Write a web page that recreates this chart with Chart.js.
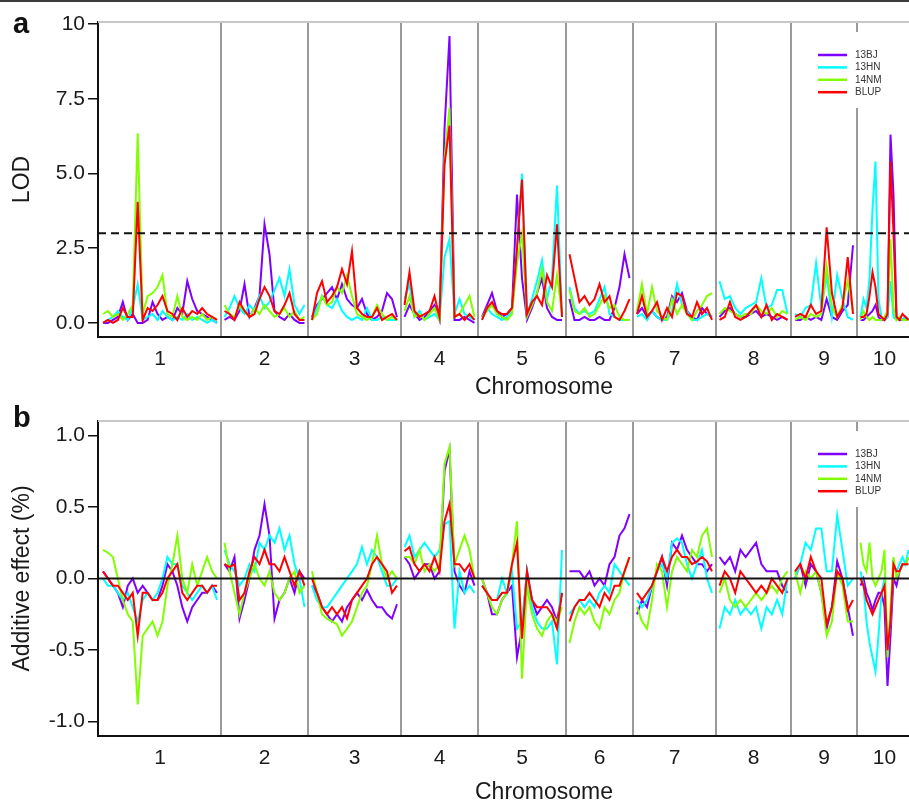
<!DOCTYPE html>
<html>
<head>
<meta charset="utf-8">
<title>QTL scan – LOD and additive effect</title>
<script src="https://cdn.jsdelivr.net/npm/chart.js@4.4.1/dist/chart.umd.min.js"></script>
<style>
  html, body { margin: 0; padding: 0; background: #fff; overflow: hidden; }
  #page { position: relative; width: 909px; height: 804px; overflow: hidden; }
  #rule { position: absolute; left: 0; top: 0; width: 909px; height: 2px; background: #3c3c3c; }
  canvas { position: absolute; left: 0; }
  #lodChart { top: 0; }
  #effectChart { top: 402px; }
</style>
</head>
<body>
<div id="page">
  <!-- the plotting region runs on past the right edge of the page -->
  <canvas id="lodChart" width="990" height="402"></canvas>
  <canvas id="effectChart" width="990" height="402"></canvas>
  <div id="rule"></div>
</div>
<script>
// ---- map layout (cM) ----
const chromosomes = ['1', '2', '3', '4', '5', '6', '7', '8', '9', '10'];
const chrLengths = [228, 160, 170, 140, 160, 120, 150, 136, 116, 96];
const chrGap = 15;
const axisStart = 10;
const axisEnd = 1784;

const seriesNames = ['13BJ', '13HN', '14NM', 'BLUP'];
const seriesColors = ['#8000ff', '#00ffff', '#80ff00', '#ff0000'];

const lodTicks = [0, 2.5, 5, 7.5, 10];
const effectTicks = [-1, -0.5, 0, 0.5, 1];
const lodThreshold = 3;

// ---- LOD profiles, one array per chromosome ----
const lod13BJ = [
  [0,0,0.1,0.2,0.7,0.1,0.3,0,0,0.1,0.7,0.3,0.1,0.2,0.1,0.5,0.3,1.4,0.8,0.4,0.3,0.2,0.1,0],
  [0.1,0.2,0.1,0.4,1.3,0.2,0.5,0.9,3.3,2.3,0.4,0.2,0.1,0.3,0.1,0,0],
  [0.2,0.6,0.8,1.0,1.2,0.8,1.3,0.8,0.6,0.5,0.8,0.3,0.1,0.2,0.4,1.0,0.8,0.2],
  [0.2,0.6,0.3,0.1,0.2,0.4,0.6,0.1,6.5,9.6,0.1,0.1,0.2,0.1,0],
  [0.2,0.6,1.0,0.4,0.2,0.3,0.5,4.3,1.5,0.1,0.5,1.0,1.5,0.5,0.2,0.1,0.1],
  [0.8,0.1,0.1,0.2,0.1,0.1,0.2,0.1,0.1,0.5,1.2,2.3,1.5],
  [0.3,0.5,0.2,0.4,0.2,0.1,0.2,0.9,0.7,1.0,0.4,0.2,0.1,0.5,0.3,0.2],
  [0.2,0.4,0.5,0.3,0.2,0.2,0.3,0.4,0.2,0.3,0.2,0.1,0.2,0.1],
  [0.1,0.1,0.2,0.1,0.2,0.1,0.8,0.2,0.1,0.4,0.6,2.6],
  [0.1,0.1,0.2,0.3,0.4,0.6,0.2,0.1,0.1,0.2,6.3,4.3,0.2,0.1,0.1,0.2,0.1]
];
const lod13HN = [
  [0,0.1,0.2,0.4,0.2,0.1,0.5,1.3,0.1,0.2,0.3,0.1,0.4,0.2,0.1,0.2,0.1,0.3,0.1,0.2,0.1,0,0.1,0],
  [0.2,0.5,0.9,0.5,0.3,0.6,0.4,0.9,0.5,0.7,1.1,1.5,0.9,1.8,0.6,0.3,0.6],
  [0.1,0.5,0.9,0.6,0.5,0.8,0.4,0.2,0.1,0.2,0.1,0.5,0.1,0.1,0.2,0.1,0.1,0.1],
  [0.8,1.3,0.2,0.4,0.1,0.2,0.3,0.1,2.2,2.8,0.3,0.8,0.3,0.2,0.1],
  [0.1,0.5,0.3,0.2,0.1,0.2,0.4,2.5,5.0,0.3,0.8,1.4,2.1,0.8,1.5,4.6,0.2],
  [1.2,0.5,0.3,0.4,0.3,0.4,0.8,1.2,0.3,0.2,0.1,0.1,0.1],
  [0.2,0.3,0.1,0.4,0.2,0.1,0.1,0.4,1.3,0.6,0.4,0.1,0.1,0.2,0.3,0.2],
  [1.4,0.8,0.9,0.5,0.3,0.5,0.6,0.7,1.5,0.5,0.6,1.1,1.1,0.3],
  [0.3,0.2,0.5,0.6,2.0,0.5,1.6,0.2,1.6,0.8,0.2,0.1],
  [0.2,0.8,0.5,1.5,3.8,5.4,0.8,0.2,0.1,0.2,1.4,0.2,0.1,0.2,0.1,0.2,0.1]
];
const lod14NM = [
  [0.3,0.4,0.2,0.3,0.1,0.3,0.6,6.35,0.3,0.9,1.0,1.2,1.6,0.3,0.2,0.9,0.2,0.1,0.2,0.1,0.3,0.1,0.2,0.1],
  [0.6,0.3,0.2,0.6,0.4,0.2,0.5,0.3,0.6,0.4,0.2,0.3,0.5,0.2,0.4,0.1,0.2],
  [0.1,0.3,0.9,0.6,0.7,1.2,1.0,1.6,0.9,0.3,0.2,0.1,0.2,0.6,0.3,0.1,0.2,0.1],
  [0.4,0.9,0.2,0.3,0.1,0.3,0.5,0.1,5.5,7.2,0.2,0.3,0.6,0.9,0.2],
  [0.2,0.4,0.6,0.3,0.2,0.1,0.3,2.0,3.0,0.2,0.6,1.0,1.8,0.7,0.4,1.6,0.3],
  [1.1,0.4,0.3,0.5,0.2,0.3,0.6,0.9,0.5,0.6,0.2,0.1,0.1],
  [0.4,1.3,0.3,1.2,0.4,0.2,0.1,0.8,0.3,0.6,0.3,0.1,0.4,0.6,0.9,1.0],
  [0.3,0.5,0.4,0.3,0.2,0.3,0.3,0.6,0.4,0.3,0.5,0.2,0.4,0.3],
  [0.1,0.2,0.1,0.3,0.2,0.3,1.9,0.5,0.2,0.6,1.4,0.4],
  [0.1,0.4,0.2,0.1,0.2,0.1,0.1,0.1,0.2,0.4,2.8,0.5,0.1,0.2,0.1,0.1,0.1]
];
const lodBLUP = [
  [0,0.1,0,0.1,0.5,0.2,0.2,4.05,0.1,0.5,0.4,0.6,0.9,0.4,0.3,0.1,0.5,0.2,0.4,0.3,0.5,0.3,0.2,0.1],
  [0.4,0.3,0.1,0.7,0.4,0.2,0.3,0.8,1.2,0.9,0.4,0.3,0.6,1.0,0.3,0.1,0.1],
  [0.1,1.0,1.4,0.7,0.9,1.2,1.8,1.3,2.4,0.5,0.3,0.2,0.2,0.5,0.1,0.2,0.3,0.1],
  [0.6,1.7,0.4,0.2,0.3,0.4,0.9,0.2,5.3,6.6,0.2,0.3,0.1,0.3,0.1],
  [0.1,0.5,0.7,0.4,0.3,0.3,0.5,2.5,4.8,0.3,0.7,0.9,0.6,1.6,1.2,3.3,0.2],
  [2.3,1.5,0.7,0.9,0.6,0.8,1.3,0.7,0.9,0.2,0.1,0.4,0.8],
  [0.3,0.9,0.2,0.4,0.7,0.1,0.5,0.2,1.0,0.9,0.3,0.2,0.7,0.3,0.5,0.1],
  [0.1,0.2,0.7,0.2,0.1,0.2,0.4,0.6,0.2,0.6,0.1,0.3,0.2,0.1],
  [0.2,0.3,0.2,0.6,0.3,0.4,3.2,1.0,0.2,0.5,2.2,0.3],
  [0.2,0.2,0.3,0.9,1.7,1.2,0.3,0.2,0.1,0.3,5.4,3.0,0.2,0.1,0.3,0.2,0.1]
];

// ---- additive effect profiles (%) ----
const eff13BJ = [
  [0.05,0,-0.05,-0.1,-0.2,-0.05,0,-0.1,-0.05,-0.1,-0.15,-0.15,-0.05,0.1,0.05,-0.05,-0.2,-0.3,-0.2,-0.15,-0.1,-0.1,-0.05,-0.1],
  [0.1,0.05,0.15,-0.28,-0.15,0,0.2,0.3,0.52,0.3,-0.28,-0.15,-0.1,0,-0.1,0.05,0],
  [-0.05,-0.1,-0.2,-0.25,-0.3,-0.25,-0.3,-0.2,-0.15,-0.1,-0.15,-0.08,-0.15,-0.2,-0.2,-0.25,-0.28,-0.18],
  [0.15,0.1,0,0.05,0.1,0.1,0,0.05,0.75,0.9,0.05,-0.05,-0.1,0.05,-0.05],
  [0,-0.1,-0.25,-0.25,-0.15,-0.1,-0.05,-0.55,-0.35,0.05,-0.15,-0.25,-0.2,-0.15,-0.2,-0.3,-0.1],
  [0.05,0.05,0.05,0,0.05,-0.05,0,-0.05,0.1,0.15,0.3,0.35,0.45],
  [-0.25,-0.15,-0.2,-0.05,0.05,0.15,-0.05,0.25,0.2,0.3,0.2,0.15,0.1,0.1,0.05,0.1],
  [0.15,0.1,0.15,0.05,0.2,0.15,0.2,0.25,0.1,0.05,0.05,0.05,-0.05,-0.1],
  [0,0.1,-0.05,0.1,0.05,-0.1,-0.35,-0.2,0.12,0,-0.2,-0.4],
  [-0.05,0,-0.1,-0.15,-0.22,-0.15,-0.1,-0.1,-0.2,-0.75,-0.4,0,-0.05,0.05,0.1,0.1,0.15]
];
const eff13HN = [
  [0,-0.05,-0.05,-0.1,-0.15,-0.1,-0.2,-0.3,-0.15,-0.1,-0.15,-0.1,0,0.15,0.1,0.1,-0.05,-0.1,-0.15,-0.1,-0.05,-0.1,-0.05,-0.15],
  [0.2,0.1,0.05,-0.05,0,0.1,0.05,0.25,0.2,0.3,0.25,0.35,0.2,0.3,0.1,0,-0.2],
  [-0.05,-0.15,-0.2,-0.2,-0.15,-0.1,-0.05,0,0.05,0.1,0.22,0.1,0.2,0.15,0.05,-0.05,-0.05,0],
  [0.22,0.3,0.15,0.2,0.25,0.2,0.15,0.2,0.38,0.4,-0.35,0.05,-0.1,-0.05,-0.1],
  [-0.05,-0.1,-0.15,-0.15,0,-0.1,0.05,-0.35,-0.3,0.05,-0.2,-0.3,-0.35,-0.35,-0.3,-0.6,0.2],
  [-0.25,-0.2,-0.15,-0.2,-0.15,-0.2,-0.1,-0.05,-0.1,0.1,0.05,0,-0.05],
  [-0.15,-0.2,-0.15,-0.05,0.05,0.1,0,0.25,0.28,0.25,0.1,0,0.1,0.2,0,-0.1],
  [-0.35,-0.2,-0.25,-0.15,-0.25,-0.2,-0.25,-0.2,-0.35,-0.2,-0.25,-0.15,-0.25,0],
  [0,0.1,0.25,0.2,0.35,0.35,0.05,0.05,0.44,0.2,-0.05,0],
  [0.05,-0.05,-0.3,-0.45,-0.55,-0.65,-0.4,-0.1,0,-0.5,-0.3,0.1,0.05,0.1,0.15,0.1,0.2]
];
const eff14NM = [
  [0.2,0.18,0.15,0,-0.15,-0.25,-0.3,-0.88,-0.4,-0.35,-0.3,-0.4,-0.3,-0.05,0.1,0.3,0,-0.1,0.1,-0.05,0.05,0.15,0.05,0],
  [0.25,0.05,-0.1,-0.25,-0.1,0,0.1,0,-0.05,0.05,-0.1,-0.15,-0.1,0,0.05,-0.1,-0.05],
  [0.05,-0.1,-0.25,-0.28,-0.3,-0.32,-0.4,-0.35,-0.3,-0.2,-0.1,-0.05,0.1,0.3,0.1,0,0.05,0],
  [0.15,0.15,0.1,0.2,0.05,0.1,0.05,0.1,0.8,0.92,0.1,0.2,0.3,0.2,0],
  [0,-0.1,-0.2,-0.25,-0.15,-0.1,0.1,0.4,-0.7,-0.05,-0.25,-0.35,-0.4,-0.3,-0.25,-0.3,-0.2],
  [-0.45,-0.3,-0.2,-0.25,-0.2,-0.3,-0.35,-0.2,-0.25,-0.15,-0.1,0.05,0.15],
  [-0.2,-0.3,-0.35,-0.15,0.1,0.05,-0.2,0.05,0.15,0.1,0.05,0.2,0.15,0.3,0.35,0.15],
  [-0.1,0,-0.15,-0.2,-0.15,-0.2,-0.15,-0.1,-0.15,-0.1,-0.05,-0.1,0,0.05],
  [0.05,-0.1,0.05,0,0.05,-0.1,-0.4,-0.3,0.05,-0.05,-0.3,-0.3],
  [0.25,0.1,0.05,0.25,0,-0.05,0,0.05,0.2,-0.55,-0.2,0.15,0,0.05,0.1,0.1,0.15]
];
const effBLUP = [
  [0.05,0,-0.05,-0.05,-0.1,-0.15,-0.1,-0.4,-0.1,-0.1,-0.15,-0.15,-0.1,0,0.05,0.1,-0.1,-0.15,-0.1,-0.05,-0.05,-0.1,-0.05,-0.05],
  [0.1,0.08,0.1,-0.15,-0.1,0.05,0.15,0.1,0.2,0.1,0.1,0.05,0.15,0.05,-0.05,0.05,-0.05],
  [0,-0.1,-0.2,-0.25,-0.2,-0.25,-0.2,-0.28,-0.15,-0.1,-0.05,0,0.1,0.15,0.1,0.05,-0.1,-0.05],
  [0.19,0.22,0.1,0.05,0.1,0.05,0.15,0.05,0.4,0.52,0.1,0.1,0.05,0.1,0],
  [-0.05,-0.1,-0.15,-0.15,-0.1,-0.1,0.1,0.25,-0.42,0.05,-0.15,-0.2,-0.2,-0.2,-0.25,-0.35,-0.1],
  [-0.3,-0.2,-0.15,-0.15,-0.1,-0.15,-0.2,-0.1,-0.15,-0.05,-0.05,0.05,0.15],
  [-0.1,-0.15,-0.1,-0.05,0.05,0.15,0.05,0.15,0.2,0.15,0.15,0.1,0.12,0.15,0.12,0.05],
  [-0.05,0.05,0,-0.1,0.05,0,-0.05,-0.1,-0.05,-0.1,0,-0.05,-0.1,0],
  [0.05,0.1,0,0.15,0.05,0,-0.32,-0.2,0.05,0,-0.22,-0.15],
  [0,-0.05,-0.15,-0.2,-0.25,-0.2,-0.15,-0.1,-0.05,-0.5,-0.3,0.1,0.05,0.05,0.1,0.1,0.1]
];

// ---- genome positions ----
const chrStarts = [];
let cursor = axisStart;
chrLengths.forEach(len => { chrStarts.push(cursor); cursor += len + chrGap; });
const chrMids = chrStarts.map((s, i) => s + chrLengths[i] / 2);
const chrBreaks = chrStarts.slice(1).map(s => s - chrGap / 2);

// markers are evenly spread along each chromosome; a null breaks the line between chromosomes
function toPoints(profile) {
  const pts = [];
  profile.forEach((vals, c) => {
    const step = chrLengths[c] / (vals.length - 1);
    vals.forEach((v, i) => pts.push({ x: chrStarts[c] + i * step, y: v }));
    pts.push({ x: chrStarts[c] + chrLengths[c] + chrGap / 2, y: null });
  });
  return pts;
}

const FONT = '"Liberation Sans", Arial, Helvetica, sans-serif';
const INK = '#1a1a1a';

function seriesDatasets(profiles) {
  return profiles.map((profile, k) => ({
    label: seriesNames[k],
    data: toPoints(profile),
    borderColor: seriesColors[k],
    borderWidth: 2,
    pointRadius: 0,
    tension: 0,
    order: seriesNames.length - k
  }));
}

function refLine(value, dash) {
  return {
    label: '',
    data: [{ x: 0, y: value }, { x: axisEnd, y: value }],
    borderColor: '#111',
    borderWidth: 2,
    borderDash: dash,
    pointRadius: 0,
    order: 0
  };
}

// light rule along the top of the plotting region
const topRule = {
  id: 'topRule',
  beforeDatasetsDraw(chart) {
    const { ctx, chartArea } = chart;
    ctx.save();
    ctx.strokeStyle = '#c8c8c8';
    ctx.lineWidth = 2;
    ctx.beginPath();
    ctx.moveTo(chartArea.left, chartArea.top);
    ctx.lineTo(chartArea.right, chartArea.top);
    ctx.stroke();
    ctx.restore();
  }
};

// small boxed legend near the top right of the plot
const insetLegend = {
  id: 'insetLegend',
  afterDatasetsDraw(chart) {
    const { ctx, chartArea } = chart;
    const items = chart.data.datasets.filter(d => seriesNames.includes(d.label));
    const r = chartArea.right;
    const top = chartArea.top + 10;
    ctx.save();
    ctx.fillStyle = '#fff';
    ctx.fillRect(r - 180, top, 96, 76);
    ctx.font = '10px ' + FONT;
    ctx.textBaseline = 'middle';
    items.forEach((d, i) => {
      const y = top + 23 + i * 12.4;
      ctx.strokeStyle = d.borderColor;
      ctx.lineWidth = 2.5;
      ctx.beginPath();
      ctx.moveTo(r - 172, y);
      ctx.lineTo(r - 143, y);
      ctx.stroke();
      ctx.fillStyle = '#333';
      ctx.fillText(d.label, r - 135, y);
    });
    ctx.restore();
  }
};

// bold panel letter
const panelTag = {
  id: 'panelTag',
  afterDraw(chart, args, opts) {
    const { ctx } = chart;
    ctx.save();
    ctx.font = 'bold 29px ' + FONT;
    ctx.fillStyle = '#111';
    ctx.textBaseline = 'alphabetic';
    ctx.fillText(opts.text, 13, opts.baseline);
    ctx.restore();
  }
};

function makePanel(canvasId, p) {
  return new Chart(document.getElementById(canvasId), {
    type: 'line',
    data: { datasets: seriesDatasets(p.profiles).concat([refLine(p.refValue, p.refDash)]) },
    plugins: [topRule, insetLegend, panelTag],
    options: {
      responsive: false,
      animation: false,
      devicePixelRatio: 1,
      spanGaps: false,
      layout: { padding: { top: p.padTop, right: 0, bottom: 0, left: 0 } },
      plugins: {
        legend: { display: false },
        tooltip: { enabled: false },
        panelTag: { text: p.tag, baseline: p.tagBaseline }
      },
      scales: {
        x: {
          type: 'linear',
          min: 0,
          max: axisEnd,
          afterBuildTicks: s => {
            s.ticks = chrBreaks.concat(chrMids).sort((a, b) => a - b).map(v => ({ value: v }));
          },
          afterFit: s => { s.height = p.xHeight; },
          grid: {
            drawTicks: false,
            lineWidth: 2,
            color: c => (c.tick && chrBreaks.includes(c.tick.value)) ? '#9a9a9a' : 'rgba(0,0,0,0)'
          },
          border: { color: '#111', width: 2 },
          ticks: {
            autoSkip: false,
            maxRotation: 0,
            padding: 10,
            color: INK,
            font: { family: FONT, size: 21 },
            callback: v => {
              const i = chrMids.indexOf(v);
              return i >= 0 ? chromosomes[i] : '';
            }
          },
          title: {
            display: true,
            text: 'Chromosome',
            color: INK,
            font: { family: FONT, size: 23, lineHeight: p.xTitleLH },
            padding: { top: 0, bottom: p.xTitlePad }
          }
        },
        y: {
          min: p.yMin,
          max: p.yMax,
          afterBuildTicks: s => { s.ticks = p.ticks.map(v => ({ value: v })); },
          afterFit: s => { s.width = 98; },
          grid: { drawOnChartArea: false, tickLength: 10, color: '#111', lineWidth: 1.5 },
          border: { color: '#111', width: 2 },
          ticks: {
            padding: 3,
            color: INK,
            font: { family: FONT, size: 21 },
            callback: p.tickLabel
          },
          title: {
            display: true,
            text: p.yTitle,
            color: INK,
            font: { family: FONT, size: 23 },
            padding: { top: 9, bottom: 0 }
          }
        }
      }
    }
  });
}

makePanel('lodChart', {
  profiles: [lod13BJ, lod13HN, lod14NM, lodBLUP],
  refValue: lodThreshold,
  refDash: [8, 5],
  tag: 'a',
  tagBaseline: 33,
  padTop: 22,
  xHeight: 65,
  xTitleLH: 1.2,
  xTitlePad: 1,
  yMin: -0.47,
  yMax: 10.07,
  ticks: lodTicks,
  tickLabel: v => (v === 10 ? '10' : v.toFixed(1)),
  yTitle: 'LOD'
});

makePanel('effectChart', {
  profiles: [eff13BJ, eff13HN, eff14NM, effBLUP],
  refValue: 0,
  refDash: [],
  tag: 'b',
  tagBaseline: 25,
  padTop: 19,
  xHeight: 68,
  xTitleLH: 1.0,
  xTitlePad: 0,
  yMin: -1.1,
  yMax: 1.1,
  ticks: effectTicks,
  tickLabel: v => v.toFixed(1),
  yTitle: 'Additive effect (%)'
});
</script>
</body>
</html>
